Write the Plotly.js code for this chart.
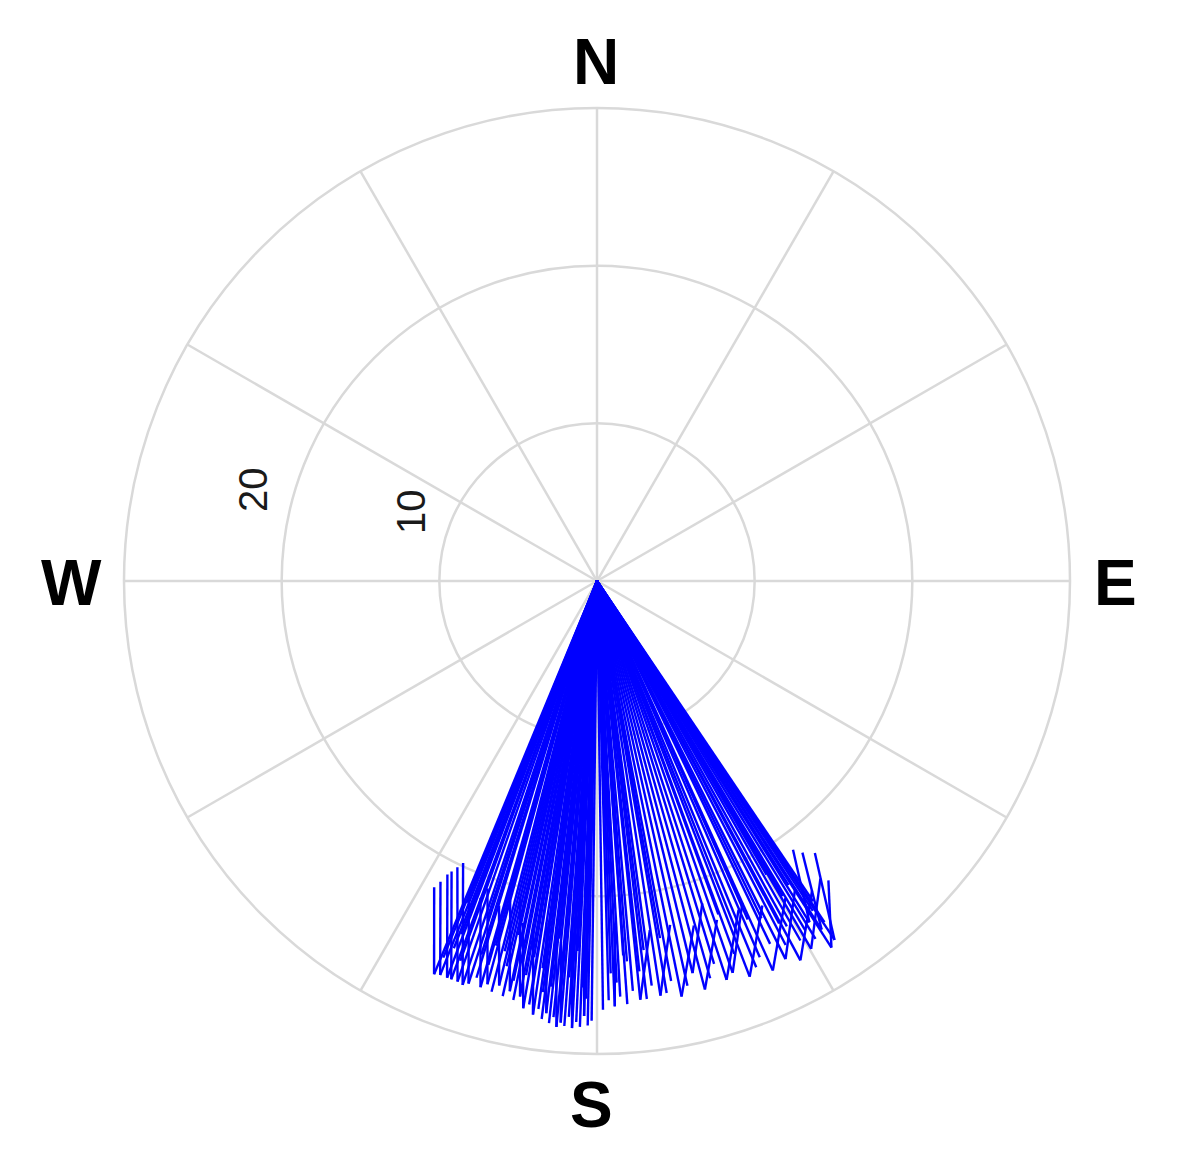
<!DOCTYPE html>
<html>
<head>
<meta charset="utf-8">
<script src="https://cdn.plot.ly/plotly-3.0.1.min.js"></script>
<style>html,body{margin:0;padding:0;background:#fff;}#chart{width:1194px;height:1174px;}</style>
</head>
<body>
<div id="chart"></div>
<script>
// Spoke tips: direction (deg, clockwise from N) and speed
var spokeDir = [146.0,146.3,146.5,146.8,147.2,147.4,148.1,148.6,149.2,149.8,150.5,151.2,151.8,152.6,153.5,154.5,155.7,156.6,157.6,158.9,159.8,160.9,162.0,163.0,164.1,165.2,166.3,167.4,168.5,169.5,170.4,171.3,172.3,173.2,174.1,175.0,175.9,176.8,177.6,178.4,179.2,180.7,181.2,181.7,182.2,182.7,183.2,183.7,184.2,184.7,185.2,185.7,186.2,186.7,187.2,187.8,188.4,189.1,189.8,190.5,191.3,192.0,192.8,193.6,194.4,195.2,196.0,196.9,197.7,198.4,199.2,200.1,200.7,201.7,202.5,183.0,186.0,189.5,192.5,195.5,198.0,201.0,202.0,170.0,160.0,150.0,156.0,176.0,
  181.5,182.0,183.5,184.0,185.0,186.5,187.5,188.0,189.0,190.2,191.0,191.8,193.2,194.0,195.8,197.2,199.8,201.3,202.2,178.0,177.2,175.5,173.8,172.8,158.3,154.0,152.0,149.5,147.8,146.4];
var spokeSpd = [24.5,26.0,27.3,25.0,26.3,27.6,25.5,26.6,25.8,27.0,26.2,25.0,27.3,26.0,26.8,25.5,27.1,26.0,26.5,26.9,25.2,26.3,26.6,25.4,26.2,26.8,25.6,26.3,26.9,25.8,26.5,26.6,25.9,26.7,26.7,26.1,26.9,26.4,27.0,26.6,27.2,27.9,28.2,27.6,28.3,28.0,28.4,27.7,28.3,28.1,28.4,27.8,28.2,27.6,28.0,27.4,27.8,27.2,27.5,26.8,27.1,26.6,27.0,26.4,26.9,26.5,26.8,26.3,26.8,27.0,26.9,26.9,26.9,26.9,27.0,23.5,22.8,24.2,23.0,24.0,22.5,24.0,22.0,23.0,22.5,21.5,23.5,23.8,
  26.5,25.8,26.9,25.2,26.7,25.9,26.3,24.8,26.1,25.4,24.6,25.9,25.1,24.2,25.3,24.8,25.6,25.0,25.8,24.9,25.5,24.2,24.9,23.6,24.2,23.8,24.6,23.2,22.8,23.0];
// Stroke segments from a tip to an end point
var strokeFromDir = [202.5,201.7,200.7,200.1,199.2,198.4,148.1,147.2,146.5,147.4,151.8,155.7,158.9,162.0,165.2,168.5,171.3,174.1,196.0,192.0,188.4,185.2,183.2,177.6,
  181.7,184.7,186.7,189.8,193.6,195.2,197.7,190.5,160.9,166.3,153.5,149.8];
var strokeFromSpd = [27.0,26.9,26.9,26.9,26.9,27.0,25.5,26.3,27.3,27.6,27.3,27.1,26.9,26.6,26.8,26.9,26.6,26.7,26.8,26.6,27.8,28.4,28.4,27.0,
  27.6,28.1,27.6,27.5,26.4,26.5,26.8,26.8,26.3,25.6,26.8,27.0];
var strokeToDir = [208.0,207.5,207.0,206.6,206.0,205.4,143.9,142.9,141.3,142.3,145.2,149.3,153.0,156.7,160.5,164.3,168.0,171.4,200.2,195.2,190.5,186.7,184.1,177.05,
  182.1,185.7,188.4,192.2,196.8,199.6,202.0,193.7,155.7,161.9,147.2,143.1];
var strokeToSpd = [22.0,21.5,20.9,20.6,20.2,19.8,21.1,21.6,22.1,24.0,23.9,23.4,23.1,22.7,22.8,22.7,22.3,22.4,21.4,21.0,22.2,22.1,22.1,21.9,
  21.9,23.0,21.9,22.2,21.5,20.7,21.7,20.6,22.4,21.5,23.2,23.6];
// Axis labels
var compassVals = [0,30,60,90,120,150,180,210,240,270,300,330];
var compassLabels = ['N','E','S','W'];
var radialLabels = ['10','20'];

var r = [], th = [];
for (var i = 0; i < spokeDir.length; i++) {
  r.push(0, spokeSpd[i], null);
  th.push(spokeDir[i], spokeDir[i], null);
}
for (var j = 0; j < strokeFromDir.length; j++) {
  r.push(strokeFromSpd[j], strokeToSpd[j], null);
  th.push(strokeFromDir[j], strokeToDir[j], null);
}

var trace = {
  type: 'scatterpolar', mode: 'lines', r: r, theta: th,
  connectgaps: false,
  line: {color: '#0000ff', width: 2.4},
  hoverinfo: 'skip', showlegend: false
};

var grid = '#d9d9d9';
var bold = {family: 'Liberation Sans, Arial, sans-serif', size: 64, color: '#000000', weight: 'bold'};
var reg = {family: 'Liberation Sans, Arial, sans-serif', size: 40, color: '#1a1a1a'};
function ann(t, x, y, f, ang) {
  return {text: t, xref: 'paper', yref: 'paper', x: x, y: y, showarrow: false, textangle: ang,
          xanchor: 'center', yanchor: 'middle', font: f};
}
var layout = {
  width: 1194, height: 1174,
  margin: {l: 124, r: 124, t: 108, b: 120, pad: 0},
  paper_bgcolor: '#ffffff',
  showlegend: false,
  polar: {
    bgcolor: '#ffffff',
    domain: {x: [0, 1], y: [0, 1]},
    radialaxis: {
      range: [0, 30], tickvals: [10, 20], showticklabels: false, ticks: '',
      showline: false, gridcolor: grid, gridwidth: 2.5
    },
    angularaxis: {
      rotation: 90, direction: 'clockwise',
      tickmode: 'array', tickvals: compassVals, showticklabels: false, ticks: '',
      gridcolor: grid, gridwidth: 2.5,
      showline: true, linecolor: grid, linewidth: 2.5
    }
  },
  annotations: [
    ann(compassLabels[0], 0.4989, 1.0486, bold, 0),
    ann(compassLabels[1], 1.0476, 0.4979, bold, 0),
    ann(compassLabels[2], 0.4937, -0.0539, bold, 0),
    ann(compassLabels[3], -0.0550, 0.4979, bold, 0),
    ann(radialLabels[1], 0.1364, 0.5962, reg, -90),
    ann(radialLabels[0], 0.3034, 0.5729, reg, -90)
  ]
};

Plotly.newPlot('chart', [trace], layout, {displayModeBar: false, staticPlot: true});
</script>
</body>
</html>
